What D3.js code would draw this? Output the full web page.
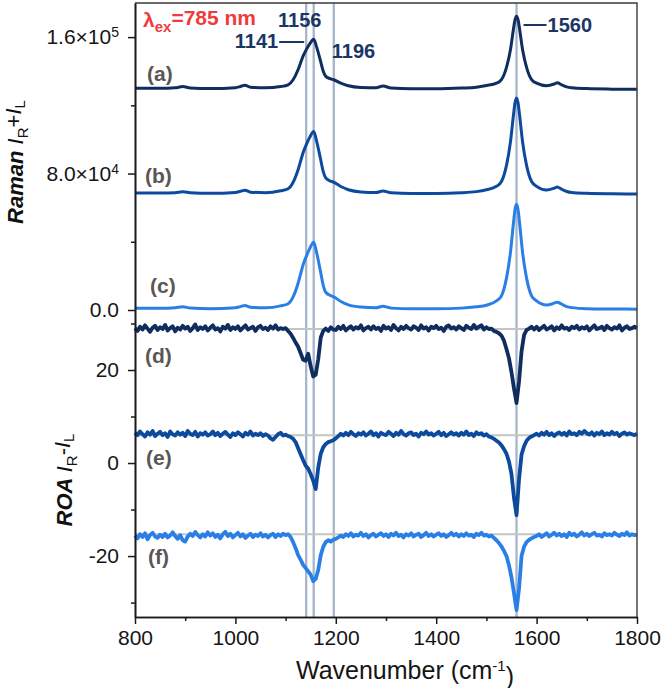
<!DOCTYPE html>
<html>
<head>
<meta charset="utf-8">
<script src="https://cdnjs.cloudflare.com/ajax/libs/d3/7.8.5/d3.min.js"></script>
<style>
body { margin: 0; background: #fff; }
svg { font-family: Arial, "Liberation Sans", Helvetica, sans-serif; }
</style>
</head>
<body>
<svg id="chart" width="666" height="688"></svg>
<script>
// Raman spectra, intensity in units of 1e3 counts
const ramanX = [800, 850, 880, 895, 910, 950, 1000, 1010, 1019, 1030, 1060, 1090, 1105, 1115, 1125, 1130, 1135, 1141, 1148, 1156,
    1162, 1169, 1175, 1180, 1190, 1196, 1210, 1225, 1250, 1280, 1294, 1310, 1350, 1400, 1450, 1480, 1500, 1520, 1530, 1540,
    1548, 1554, 1557, 1560, 1563, 1566, 1572, 1580, 1590, 1600, 1620, 1635, 1641, 1650, 1660, 1670, 1700, 1750, 1800];
const ramanA = [130.0, 130.0, 130.3, 131.0, 130.2, 129.8, 130.3, 131.0, 131.8, 130.6, 130.3, 131.0, 132.0, 135.0, 141.0, 145.0, 149.0, 152.5, 156.0, 158.7,
    154.0, 146.6, 140.0, 137.0, 135.5, 135.0, 133.0, 131.5, 130.5, 130.3, 131.4, 130.1, 129.7, 129.7, 130.1, 130.6, 131.6, 133.0, 135.1, 142.3,
    152.8, 164.9, 170.2, 172.3, 170.2, 164.9, 152.8, 142.3, 135.1, 133.0, 131.5, 132.5, 133.2, 132.0, 130.8, 130.3, 129.8, 129.5, 129.4];
const ramanB = [68.6, 68.6, 68.8, 69.3, 68.8, 68.4, 68.9, 69.6, 70.2, 69.1, 68.8, 69.9, 71.1, 74.9, 82.4, 87.4, 92.4, 96.8, 101.2, 104.6,
    98.7, 89.4, 81.1, 77.4, 75.5, 74.9, 72.4, 70.5, 69.2, 68.9, 69.8, 68.7, 68.3, 68.3, 68.7, 69.4, 70.5, 72.5, 75.3, 84.8,
    98.7, 114.5, 121.5, 124.3, 121.5, 114.5, 98.7, 84.8, 75.3, 72.5, 70.3, 71.4, 72.1, 70.8, 69.5, 68.9, 68.4, 68.1, 68.0];
const ramanC = [1.0, 1.0, 1.3, 1.9, 1.2, 0.8, 1.3, 2.0, 2.6, 1.6, 1.3, 2.4, 3.7, 7.7, 15.8, 21.2, 26.6, 31.3, 36.0, 39.7,
    33.4, 23.4, 14.5, 10.4, 8.4, 7.7, 5.0, 3.0, 1.7, 1.3, 2.2, 1.1, 0.7, 0.7, 1.1, 1.9, 2.8, 5.3, 8.3, 18.7,
    33.9, 51.3, 59.0, 62.0, 59.0, 51.3, 33.9, 18.7, 8.3, 5.3, 2.9, 4.0, 4.6, 3.4, 2.0, 1.4, 0.8, 0.6, 0.5];

// ROA spectra, one value every 5 cm-1 from 800 to 1800
const roaX = d3.range(800, 1801, 5);
const roaD = [
    29.0, 28.4, 29.3, 28.7, 29.6, 28.9, 28.2, 29.1, 29.5, 28.6,
    29.2, 28.8, 29.7, 28.5, 29.0, 29.4, 28.3, 29.1, 28.7, 29.5,
    28.9, 29.3, 28.4, 29.0, 29.8, 28.6, 29.2, 28.8, 29.4, 28.5,
    29.1, 29.6, 28.7, 29.0, 28.3, 29.3, 28.9, 29.7, 28.6, 29.2,
    28.8, 29.4, 28.5, 29.1, 29.6, 28.7, 29.0, 29.3, 28.4, 29.2,
    29.5, 28.8, 29.1, 28.6, 29.4, 28.9, 29.6, 28.7, 29.0, 28.8,
    29.0, 28.4, 27.8, 26.9, 25.9, 25.0, 23.6, 22.2, 22.0, 23.5,
    20.8, 18.6, 19.0, 22.3, 27.0, 28.4, 28.9, 28.4, 29.2, 28.7,
    28.6, 29.3, 28.8, 29.5, 28.5, 29.0, 29.4, 28.7, 29.2, 28.9,
    29.6, 28.5, 29.0, 29.3, 28.7, 29.4, 28.8, 29.1, 28.4, 29.5,
    28.9, 29.2, 28.6, 29.7, 29.0, 28.5, 29.3, 28.8, 29.5, 29.0,
    28.7, 29.4, 29.1, 28.6, 29.6, 28.9, 29.2, 28.5, 29.3, 29.0,
    29.5, 28.8, 29.1, 28.4, 29.3, 29.6, 28.9, 29.2, 28.7, 29.4,
    29.0, 28.6, 29.5, 29.1, 28.8, 29.7, 28.9, 29.3, 29.6, 28.7,
    29.2, 28.8, 28.9, 28.4, 28.2, 27.9, 27.4, 26.3, 24.5, 22.5,
    19.5, 16.0, 12.9, 17.5, 24.0, 27.5, 28.6, 28.9, 29.3, 28.7,
    29.3, 28.6, 29.1, 29.5, 28.7, 29.0, 29.4, 28.5, 29.2, 28.8,
    29.6, 28.9, 29.1, 28.6, 29.3, 29.0, 29.5, 28.7, 29.2, 28.9,
    29.4, 28.5, 29.1, 29.6, 28.8, 29.0, 29.3, 28.6, 29.5, 29.0,
    28.7, 29.2, 28.9, 29.6, 28.5, 29.1, 29.4, 28.8, 29.0, 29.3,
    29.0];
const roaE = [
    6.5, 6.0, 6.8, 6.2, 5.7, 6.6, 6.1, 6.9, 5.8, 6.3,
    6.7, 6.0, 6.4, 5.6, 6.8, 6.2, 5.9, 6.6, 6.1, 6.5,
    5.8, 6.9, 6.3, 6.0, 6.7, 5.7, 6.4, 6.1, 6.6, 5.9,
    6.2, 6.8, 6.0, 6.5, 5.8, 6.3, 6.7, 6.1, 5.6, 6.4,
    6.0, 6.6, 6.2, 5.7, 6.5, 6.1, 6.8, 5.9, 6.3, 6.0,
    6.4, 5.8, 6.2, 5.9, 5.3, 5.0, 5.6, 6.2, 6.5, 5.9,
    6.1, 5.8, 5.6, 5.2, 4.5, 3.2, 1.9, 0.6, -0.6, -1.2,
    -2.4, -3.8, -5.6, -1.0, 2.0, 3.4, 4.1, 4.5, 4.7, 4.9,
    5.3, 5.8, 6.3, 5.9, 6.5, 6.0, 6.7, 6.2, 5.8, 6.4,
    6.1, 6.6, 5.9, 6.3, 6.8, 6.0, 6.4, 5.7, 6.5, 6.2,
    6.0, 6.7, 6.3, 5.8, 6.5, 6.1, 6.9, 6.2, 5.9, 6.4,
    6.6, 6.0, 6.3, 5.7, 6.5, 6.2, 6.8, 6.1, 6.4, 5.9,
    6.3, 6.7, 6.0, 6.5, 5.8, 6.2, 6.6, 6.1, 6.4, 5.9,
    6.5, 6.1, 6.8, 6.0, 6.3, 5.8, 6.6, 6.2, 6.4, 5.9,
    6.2, 5.7, 5.5, 5.2, 4.8, 4.4, 3.8, 3.0, 2.0, 0.3,
    -2.4, -7.5, -11.2, -3.5, 1.8, 3.6, 4.8, 5.4, 5.7, 6.0,
    6.3, 5.9, 6.5, 6.1, 6.7, 6.0, 6.4, 5.8, 6.3, 6.6,
    6.1, 6.5, 5.9, 6.8, 6.2, 6.4, 6.0, 6.7, 6.3, 6.9,
    6.4, 6.1, 6.6, 5.9, 6.5, 6.2, 6.8, 6.0, 6.4, 6.1,
    6.7, 6.2, 6.5, 5.8, 6.3, 6.6, 6.1, 6.4, 6.2, 6.0,
    6.3];
const roaF = [
    -15.6, -16.2, -15.3, -15.9, -15.1, -16.4, -15.5, -15.0, -15.8, -16.1,
    -15.4, -15.9, -15.2, -16.0, -15.6, -14.9, -15.7, -16.3, -15.5, -16.6,
    -16.9, -15.8, -15.2, -15.7, -14.8, -15.5, -16.0, -15.3, -15.8, -14.9,
    -15.6, -15.1, -15.9, -15.4, -16.2, -15.3, -14.8, -15.7, -15.2, -16.0,
    -15.5, -15.0, -15.8, -15.3, -16.1, -15.6, -15.2, -15.9, -15.4, -15.7,
    -15.1, -15.8, -15.4, -16.0, -15.5, -15.2, -15.9, -15.3, -15.7, -15.2,
    -15.5, -15.3, -15.9, -17.0, -18.3, -19.8, -20.8, -21.9, -22.6, -23.3,
    -24.0, -25.4, -24.9, -23.0, -19.8, -18.0, -17.0, -16.6, -16.9, -16.5,
    -16.3, -16.0, -15.6, -15.9, -15.3, -15.7, -15.1, -15.8, -15.4, -15.6,
    -15.0, -15.7, -15.3, -16.0, -15.5, -15.2, -15.8, -15.4, -15.1, -15.7,
    -15.3, -15.9, -15.2, -15.6, -15.0, -15.7, -15.4, -16.0, -15.3, -15.6,
    -15.1, -15.8, -15.4, -15.2, -15.9, -15.5, -15.0, -15.7, -15.3, -15.8,
    -15.4, -15.1, -15.7, -15.3, -15.9, -15.5, -15.0, -15.6, -15.2, -15.8,
    -15.3, -15.7, -15.1, -15.6, -15.4, -15.9, -15.2, -15.5, -15.0, -15.6,
    -15.4, -15.8, -15.6, -16.1, -16.6, -17.2, -17.9, -18.9, -20.0, -22.0,
    -24.6, -28.0, -31.6, -27.0, -20.0, -18.0, -17.0, -16.5, -16.2, -15.9,
    -15.7, -15.3, -15.9, -15.5, -15.1, -15.8, -15.4, -15.0, -15.6, -15.2,
    -15.7, -15.3, -15.9, -15.0, -15.5, -15.2, -15.8, -15.4, -14.9, -15.6,
    -15.2, -15.7, -15.3, -15.0, -15.6, -15.4, -15.8, -15.1, -15.5, -15.3,
    -15.6, -15.0, -15.4, -15.7, -15.2, -15.5, -14.9, -15.6, -15.3, -15.5,
    -15.4];
const roaBaselines = [28.8, 6.0, -15.3];

const peakLines = [1141, 1156, 1196, 1560];
const xMajor = [800, 1000, 1200, 1400, 1600, 1800];
const xMinor = [900, 1100, 1300, 1500, 1700];
const ramanMajor = [0, 80, 160];
const ramanMinor = [40, 120];
const ramanTickText = {0: ["0.0", ""], 80: ["8.0\u00d710", "4"], 160: ["1.6\u00d710", "5"]};
const roaMajor = [20, 0, -20];
const roaMinor = [30, 10, -10, -30];
const traceNames = ["(a)", "(b)", "(c)", "(d)", "(e)", "(f)"];

const colors = {dark: "#0f2d5e", mid: "#0c4a9e", light: "#2a7fe6"};

const svg = d3.select("#chart");
const plot = {left: 135, right: 637, top: 3, bottom: 617, split: 310};

const x = d3.scaleLinear().domain([800, 1800]).range([plot.left, plot.right]);
const yRaman = d3.scaleLinear().domain([0, 180]).range([plot.split, plot.top]);
const yRoa = d3.scaleLinear().domain([-33.1, 32.9]).range([plot.bottom, plot.split]);

//guide lines
svg.append("g").selectAll("line").data(peakLines).join("line")
    .attr("x1", d => x(d)).attr("x2", d => x(d))
    .attr("y1", plot.top).attr("y2", plot.bottom)
    .attr("stroke", "#a6b5ca").attr("stroke-width", 2.3);

svg.append("g").selectAll("line").data(roaBaselines).join("line")
    .attr("x1", plot.left).attr("x2", plot.right)
    .attr("y1", d => yRoa(d)).attr("y2", d => yRoa(d))
    .attr("stroke", "#c4c4c4").attr("stroke-width", 2);

//spectra
const ramanLine = d3.line().x((d, i) => x(ramanX[i])).y(d => yRaman(d)).curve(d3.curveMonotoneX);
const roaLine = d3.line().x((d, i) => x(roaX[i])).y(d => yRoa(d));

const ramanSets = [[ramanA, colors.dark], [ramanB, colors.mid], [ramanC, colors.light]];
ramanSets.forEach(([values, color]) => {
    svg.append("path").datum(values).attr("d", ramanLine)
        .attr("fill", "none").attr("stroke", color).attr("stroke-width", 3)
        .attr("stroke-linejoin", "round");
});

const roaSets = [[roaD, colors.dark], [roaE, colors.mid], [roaF, colors.light]];
roaSets.forEach(([values, color]) => {
    svg.append("path").datum(values).attr("d", roaLine)
        .attr("fill", "none").attr("stroke", color).attr("stroke-width", 3.8)
        .attr("stroke-linejoin", "round");
});

//frame
svg.append("path")
    .attr("d", `M${plot.left},${plot.top}H${plot.right}V${plot.bottom}`)
    .attr("fill", "none").attr("stroke", "#3a3a3a").attr("stroke-width", 1.4);

//axes
function styleAxis(g) {
    g.select(".domain").attr("stroke", "#1a1a1a").attr("stroke-width", 1.6);
    g.selectAll(".tick line").attr("stroke", "#1a1a1a").attr("stroke-width", 1.5);
    g.selectAll(".tick text").attr("fill", "#151515").style("font-size", "21px");
}

svg.append("g").attr("transform", `translate(0,${plot.bottom})`)
    .call(d3.axisBottom(x).tickValues(xMajor).tickSize(7).tickSizeOuter(0).tickPadding(6).tickFormat(d3.format("d")))
    .call(styleAxis);
svg.append("g").attr("transform", `translate(0,${plot.bottom})`)
    .call(d3.axisBottom(x).tickValues(xMinor).tickSize(4).tickSizeOuter(0).tickFormat(""))
    .call(styleAxis);

const ramanAxis = svg.append("g").attr("transform", `translate(${plot.left},0)`)
    .call(d3.axisLeft(yRaman).tickValues(ramanMajor).tickSize(7).tickSizeOuter(0).tickPadding(9))
    .call(styleAxis);
ramanAxis.selectAll(".tick text").each(function (d) {
    const t = d3.select(this).text("");
    t.append("tspan").text(ramanTickText[d][0]);
    if (ramanTickText[d][1]) {
        t.append("tspan").text(ramanTickText[d][1]).attr("dy", "-0.5em").style("font-size", "14px");
    }
});
svg.append("g").attr("transform", `translate(${plot.left},0)`)
    .call(d3.axisLeft(yRaman).tickValues(ramanMinor).tickSize(4).tickSizeOuter(0).tickFormat(""))
    .call(styleAxis);

svg.append("g").attr("transform", `translate(${plot.left},0)`)
    .call(d3.axisLeft(yRoa).tickValues(roaMajor).tickSize(7).tickSizeOuter(0).tickPadding(9).tickFormat(d3.format("d")))
    .call(styleAxis)
    .selectAll(".tick text").text(d => d < 0 ? "-" + Math.abs(d) : d);
svg.append("g").attr("transform", `translate(${plot.left},0)`)
    .call(d3.axisLeft(yRoa).tickValues(roaMinor).tickSize(4).tickSizeOuter(0).tickFormat(""))
    .call(styleAxis);

//axis titles
const xTitle = svg.append("text").attr("x", 405).attr("y", 679)
    .attr("text-anchor", "middle").attr("fill", "#151515").style("font-size", "25px");
xTitle.append("tspan").text("Wavenumber (cm");
xTitle.append("tspan").text("-1").attr("dy", "-0.55em").style("font-size", "15px");
xTitle.append("tspan").text(")").attr("dy", "0.55em");

function yTitle(cx, cy, word, sign) {
    const t = svg.append("text").attr("transform", `translate(${cx},${cy}) rotate(-90)`)
        .attr("text-anchor", "middle").attr("fill", "#111").style("font-size", "22px");
    t.append("tspan").text(word + " ").style("font-weight", "bold").style("font-style", "italic");
    t.append("tspan").text("I").style("font-style", "italic");
    t.append("tspan").text("R").attr("dy", "0.3em").style("font-size", "15px");
    t.append("tspan").text(sign).attr("dy", "-0.3em");
    t.append("tspan").text("I").style("font-style", "italic");
    t.append("tspan").text("L").attr("dy", "0.3em").style("font-size", "15px");
}
yTitle(23, 162, "Raman", "+");
yTitle(72, 480, "ROA", "-");

//trace labels
const labelPos = [[147, 81], [145, 183], [150, 293], [145, 363], [146, 465], [148, 564]];
svg.append("g").selectAll("text").data(traceNames).join("text")
    .attr("x", (d, i) => labelPos[i][0]).attr("y", (d, i) => labelPos[i][1])
    .attr("fill", "#5a5656").style("font-size", "21px").style("font-weight", "bold")
    .text(d => d);

//excitation label
const ex = svg.append("text").attr("x", 143).attr("y", 27)
    .attr("fill", "#ef3b3b").style("font-size", "21px").style("font-weight", "bold");
ex.append("tspan").text("\u03bb");
ex.append("tspan").text("ex").attr("dy", "0.3em").style("font-size", "15px");
ex.append("tspan").text("=785 nm").attr("dy", "-0.3em");

//peak labels
const peakColor = "#1b3566";
const peakText = svg.append("g").attr("fill", peakColor).style("font-size", "20px").style("font-weight", "bold");
peakText.append("text").attr("x", x(1156) - 14).attr("y", 27).attr("text-anchor", "middle").text("1156");
peakText.append("text").attr("x", x(1141) - 28).attr("y", 48).attr("text-anchor", "end").text("1141");
peakText.append("text").attr("x", x(1196) - 2).attr("y", 58).text("1196");
peakText.append("text").attr("x", x(1560) + 31).attr("y", 32).text("1560");
svg.append("line").attr("x1", x(1141) - 27).attr("x2", x(1141) - 2).attr("y1", 42).attr("y2", 42)
    .attr("stroke", peakColor).attr("stroke-width", 2);
svg.append("line").attr("x1", x(1560) + 7).attr("x2", x(1560) + 30).attr("y1", 25).attr("y2", 25)
    .attr("stroke", peakColor).attr("stroke-width", 2);
</script>
</body>
</html>
